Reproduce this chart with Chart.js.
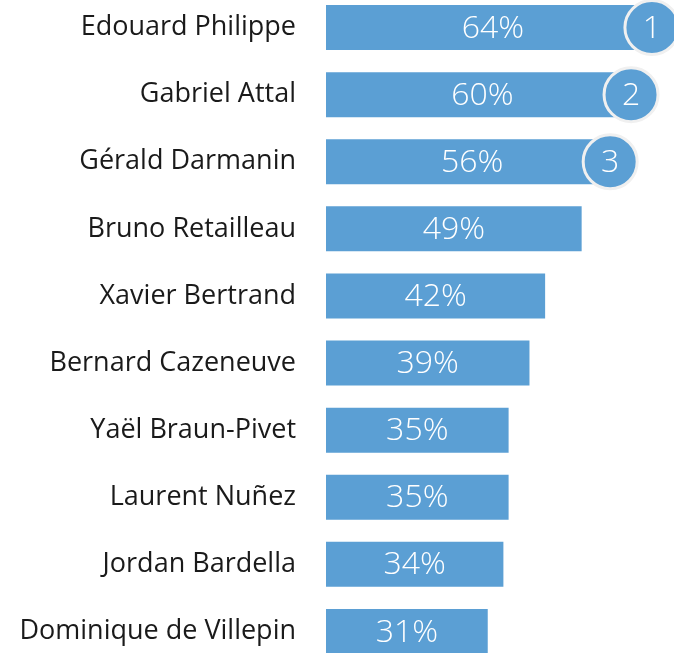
<!DOCTYPE html>
<html>
<head>
<meta charset="utf-8">
<script src="https://cdn.jsdelivr.net/npm/chart.js@4"></script>
<style>
  html, body { margin: 0; padding: 0; background: #fff; overflow: hidden; }
  #wrap { position: absolute; left: 0; top: -6px; width: 674px; height: 671px; }
</style>
</head>
<body>
<div id="wrap"><canvas id="chart"></canvas></div>
<script>
const noms = ['Edouard Philippe', 'Gabriel Attal', 'Gérald Darmanin', 'Bruno Retailleau', 'Xavier Bertrand',
  'Bernard Cazeneuve', 'Yaël Braun-Pivet', 'Laurent Nuñez', 'Jordan Bardella', 'Dominique de Villepin'];
const scores = [64, 60, 56, 49, 42, 39, 35, 35, 34, 31];
const rangs = ['1', '2', '3'];

const bleu = '#5B9FD4';

// étiquettes dans les barres + pastilles de rang
const etiquettes = {
  id: 'etiquettes',
  afterDatasetsDraw(chart) {
    const ctx = chart.ctx;
    const meta = chart.getDatasetMeta(0);
    const x = chart.scales.x;
    ctx.save();
    ctx.textAlign = 'center';
    ctx.textBaseline = 'middle';
    meta.data.forEach((bar, i) => {
      const cx = (x.getPixelForValue(0) + bar.x) / 2;
      ctx.fillStyle = '#fff';
      ctx.font = '300 32px "Open Sans"';
      ctx.fillText(scores[i] + '%', cx, bar.y + 1);
    });
    rangs.forEach((r, i) => {
      const bar = meta.data[i];
      const px = bar.x - 8;
      ctx.beginPath();
      ctx.arc(px, bar.y, 27, 0, Math.PI * 2);
      ctx.fillStyle = bleu;
      ctx.fill();
      ctx.lineWidth = 3;
      ctx.strokeStyle = '#f0f0f0';
      ctx.stroke();
      ctx.fillStyle = '#fff';
      ctx.font = '300 32px "Open Sans"';
      ctx.fillText(r, px, bar.y + 1);
    });
    ctx.restore();
  }
};

new Chart(document.getElementById('chart'), {
  type: 'bar',
  data: {
    labels: noms,
    datasets: [{
      data: scores,
      backgroundColor: bleu,
      barPercentage: 0.67,
      categoryPercentage: 1
    }]
  },
  options: {
    indexAxis: 'y',
    responsive: true,
    maintainAspectRatio: false,
    animation: false,
    layout: { padding: 0 },
    plugins: {
      legend: { display: false },
      tooltip: { enabled: false }
    },
    scales: {
      x: { display: false, min: 0, max: 66.7 },
      y: {
        grid: { display: false },
        border: { display: false },
        ticks: {
          padding: 22,
          color: '#1a1a1a',
          font: { family: 'Open Sans', size: 27 }
        },
        afterFit(scale) {
          scale.width = 326;
          scale.paddingTop = 0;
          scale.paddingBottom = 0;
        }
      }
    }
  },
  plugins: [etiquettes]
});
</script>
</body>
</html>
